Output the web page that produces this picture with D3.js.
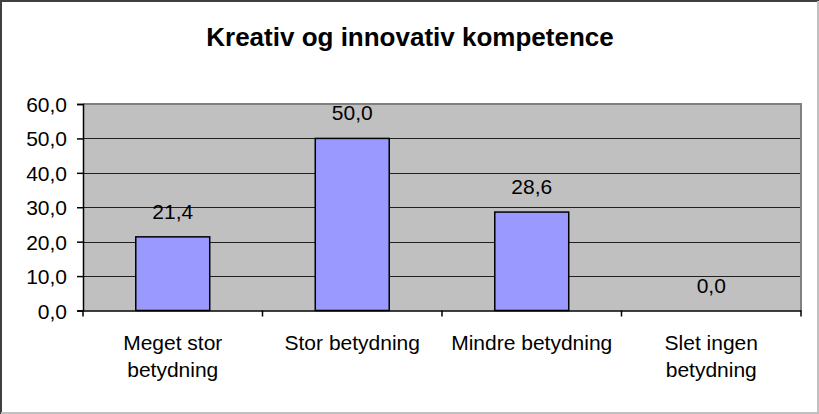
<!DOCTYPE html>
<html>
<head>
<meta charset="utf-8">
<script src="https://cdn.jsdelivr.net/npm/d3@7"></script>
<style>
  html, body { margin: 0; padding: 0; background: #fff; }
  svg { display: block; font-family: "Liberation Sans", Arial, sans-serif; }
</style>
</head>
<body>
<svg id="chart" width="819" height="414"></svg>
<script>
// data
const title = 'Kreativ og innovativ kompetence';
const categories = [['Meget stor', 'betydning'], ['Stor betydning'], ['Mindre betydning'], ['Slet ingen', 'betydning']];
const values = [21.4, 50.0, 28.6, 0.0];
const yTicks = [0, 10, 20, 30, 40, 50, 60];

const W = 819, H = 414;
const plot = { left: 83, right: 801, top: 104, bottom: 310.5 };

const svg = d3.select('#chart');
const fmt = v => d3.format('.1f')(v).replace('.', ',');

// outer frame
svg.append('rect').attr('x', 0).attr('y', 0).attr('width', W).attr('height', H).attr('fill', '#fff');
svg.append('path').attr('d', `M1,${H} V1 H${W}`).attr('fill', 'none').attr('stroke', '#404040').attr('stroke-width', 2);
svg.append('path').attr('d', `M1,${H - 1} H${W - 1} V1`).attr('fill', 'none').attr('stroke', '#c0c0c0').attr('stroke-width', 2);

// title
svg.append('text')
  .attr('x', 410).attr('y', 46)
  .attr('text-anchor', 'middle')
  .attr('font-weight', 'bold')
  .attr('font-size', 26)
  .attr('fill', '#000')
  .text(title);

const x = d3.scaleBand().domain(d3.range(categories.length)).range([plot.left, plot.right]);
const y = d3.scaleLinear().domain([0, 60]).range([plot.bottom, plot.top]);

// plot background
svg.append('rect')
  .attr('x', plot.left).attr('y', plot.top)
  .attr('width', plot.right - plot.left).attr('height', plot.bottom - plot.top)
  .attr('fill', '#c0c0c0');

// gridlines
svg.append('g').selectAll('line')
  .data(yTicks.filter(t => t > 0 && t < 60))
  .join('line')
  .attr('x1', plot.left).attr('x2', plot.right)
  .attr('y1', d => Math.round(y(d)) + 0.5).attr('y2', d => Math.round(y(d)) + 0.5)
  .attr('stroke', '#202020').attr('stroke-width', 1);

// plot border top/right
svg.append('path')
  .attr('d', `M${plot.left},${plot.top} H${plot.right} V${plot.bottom}`)
  .attr('fill', 'none').attr('stroke', '#808080').attr('stroke-width', 2);

// bars
const barW = x.bandwidth() * 0.412;
svg.append('g').selectAll('rect')
  .data(values)
  .join('rect')
  .attr('x', (d, i) => x(i) + (x.bandwidth() - barW) / 2)
  .attr('y', d => y(d))
  .attr('width', barW)
  .attr('height', d => y(0) - y(d))
  .attr('fill', '#9999ff')
  .attr('stroke', '#000').attr('stroke-width', 1.5);

// value labels
svg.append('g').selectAll('text')
  .data(values)
  .join('text')
  .attr('x', (d, i) => x(i) + x.bandwidth() / 2)
  .attr('y', d => y(d) - 18)
  .attr('text-anchor', 'middle')
  .attr('font-size', 21)
  .attr('fill', '#000')
  .text(d => fmt(d));

// y axis
const yAxis = svg.append('g')
  .attr('transform', `translate(${plot.left},0)`)
  .call(d3.axisLeft(y).tickValues(yTicks).tickSize(6).tickPadding(10).tickFormat(fmt));
yAxis.select('.domain').attr('stroke', '#000').attr('stroke-width', 1.5);
yAxis.selectAll('.tick line').attr('stroke', '#000').attr('stroke-width', 1.5);
yAxis.selectAll('.tick text').attr('font-size', 21).attr('font-family', null).attr('fill', '#000').attr('dy', '0.36em');

// x axis
const xAxis = svg.append('g')
  .attr('transform', `translate(0,${plot.bottom})`)
  .call(d3.axisBottom(x).tickValues([]).tickSizeOuter(0));
xAxis.select('.domain').attr('stroke', '#000').attr('stroke-width', 1.5);
const edges = d3.range(categories.length + 1).map(i => plot.left + i * x.step());
xAxis.selectAll('.edge')
  .data(edges)
  .join('line')
  .attr('x1', d => d).attr('x2', d => d)
  .attr('y1', 0).attr('y2', 6)
  .attr('stroke', '#000').attr('stroke-width', 1.5);

// category labels
const catG = svg.append('g').selectAll('text')
  .data(categories)
  .join('text')
  .attr('x', (d, i) => x(i) + x.bandwidth() / 2)
  .attr('y', 350)
  .attr('text-anchor', 'middle')
  .attr('font-size', 21)
  .attr('fill', '#000');
catG.selectAll('tspan')
  .data(d => d)
  .join('tspan')
  .attr('x', function () { return d3.select(this.parentNode).attr('x'); })
  .attr('dy', (d, i) => i === 0 ? 0 : 27)
  .text(d => d);
</script>
</body>
</html>
